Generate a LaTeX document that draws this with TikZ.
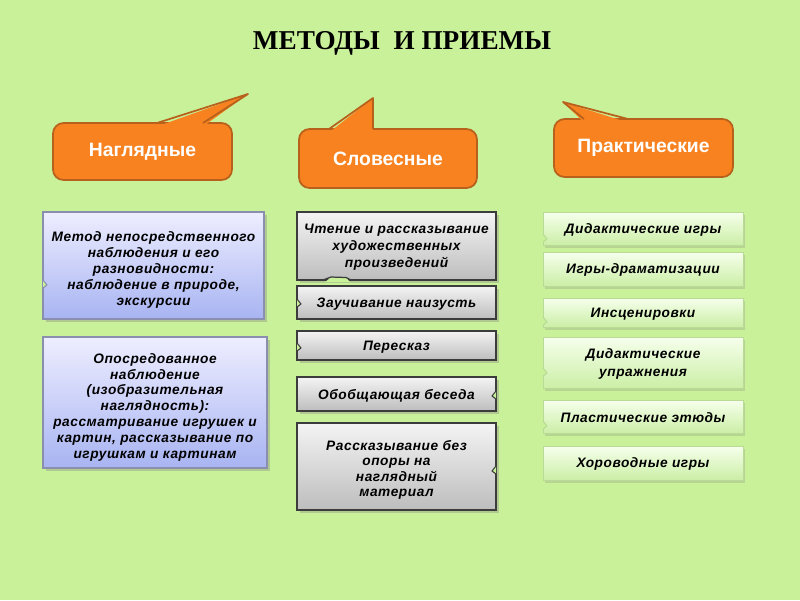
\documentclass[tikz,border=0pt]{standalone}
\usepackage{fontspec}
\setmainfont{Liberation Serif}
\setsansfont{Liberation Sans}
\newfontfamily\boxfont[LetterSpace=4]{Liberation Sans}
\newfontfamily\bubblefont{Liberation Sans}
\usetikzlibrary{shadows,fit}
\definecolor{bg}{HTML}{C9F199}
\definecolor{orangef}{HTML}{F7821F}
\definecolor{oranged}{HTML}{B8611C}
\definecolor{bluetop}{HTML}{EEEEFF}
\definecolor{bluebot}{HTML}{A8B4F2}
\definecolor{blueline}{HTML}{8A8FB0}
\definecolor{greytop}{HTML}{F4F4F4}
\definecolor{greybot}{HTML}{BDBDBD}
\definecolor{greyline}{HTML}{3C3C3C}
\definecolor{greentop}{HTML}{F6FFEC}
\definecolor{greenbot}{HTML}{CBEFA6}
\definecolor{greenline}{HTML}{B9DB95}
\tikzset{
  bubble/.style={fill=orangef, draw=oranged, line width=1pt, rounded corners=6, inner sep=0pt},
  bubbletext/.style={inner sep=0pt, text=white, font=\bubblefont\bfseries\fontsize{11pt}{13pt}\selectfont},
  tailfill/.style={fill=orangef},
  tailline/.style={draw=oranged, line width=1pt, line join=round},
  boxtext/.style={inner sep=0pt, align=center, text=black, yshift=-0.8pt,
    font=\boxfont\bfseries\itshape\fontsize{7.8pt}{9.1pt}\selectfont},
  bluebox/.style={top color=bluetop, bottom color=bluebot, draw=blueline, line width=0.6pt, inner sep=0pt,
    drop shadow={shadow xshift=1.5pt, shadow yshift=-1.5pt, opacity=0.35}},
  greybox/.style={top color=greytop, bottom color=greybot, draw=greyline, line width=0.7pt, inner sep=0pt,
    drop shadow={shadow xshift=1.5pt, shadow yshift=-1.5pt, opacity=0.35}},
  greenbox/.style={top color=greentop, bottom color=greenbot, draw=greenline, line width=0.4pt, inner sep=0pt,
    drop shadow={shadow xshift=1pt, shadow yshift=-1.5pt, opacity=0.25}},
}
% small tear on a vertical edge: #1 x, #2 y, #3 direction (+1 inward to right, -1 inward to left), #4 line colour
\newcommand\edgetear[4]{%
  \fill[bg] (#1,#2-4) -- (#1+#3*4,#2+1) -- (#1,#2+4) -- cycle;
  \draw[#4, line width=0.6pt, line join=round] (#1,#2-4) -- (#1+#3*4,#2+1) -- (#1,#2+4);}
\begin{document}
\begin{tikzpicture}[x=0.02cm,y=-0.02cm]
\path[use as bounding box, fill=bg] (0,0) rectangle (800,600);

% title
\node[font=\bfseries\fontsize{15.5pt}{18pt}\selectfont, inner sep=0pt] (title) at (402,43) {МЕТОДЫ\ \ И ПРИЕМЫ};

% bubbles
\node[bubble, fit={(53,123)(232,180)}] (b1) {};
\node[bubbletext] (t1) at (b1.center) {Наглядные};
\coordinate (b1a) at (157,123); \coordinate (b1p) at (248,94); \coordinate (b1b) at (203,123);
\fill[tailfill] ([yshift=-2]b1a) -- (b1p) -- ([yshift=-2]b1b) -- cycle;
\draw[tailline] (b1a) -- (b1p) -- (b1b);

\node[bubble, fit={(299,129)(477,188)}] (b2) {};
\node[bubbletext] (t2) at (b2.center) {Словесные};
\coordinate (b2a) at (329,129); \coordinate (b2p) at (373,98); \coordinate (b2b) at (373,129);
\fill[tailfill] ([yshift=-2]b2a) -- (b2p) -- ([yshift=-2]b2b) -- cycle;
\draw[tailline] (b2a) -- (b2p) -- (b2b);

\node[bubble, fit={(554,119)(733,177)}] (b3) {};
\node[bubbletext] (t3) at (b3.center) {Практические};
\coordinate (b3a) at (584,119); \coordinate (b3p) at (563,102); \coordinate (b3b) at (628,119);
\fill[tailfill] ([yshift=-2]b3a) -- (b3p) -- ([yshift=-2]b3b) -- cycle;
\draw[tailline] (b3a) -- (b3p) -- (b3b);

% left column
\node[bluebox, fit={(43,212)(264,319)}] (l1) {};
\node[boxtext] (l1t) at ([yshift=-2]l1.center) {Метод непосредственного\\наблюдения и его\\разновидности:\\наблюдение в природе,\\экскурсии};
\edgetear{43}{284}{1}{blueline}
\node[bluebox, fit={(43,337)(267,468)}] (l2) {};
\node[boxtext] (l2t) at ([yshift=-2]l2.center) {Опосредованное\\наблюдение\\(изобразительная\\наглядность):\\рассматривание игрушек и\\картин, рассказывание по\\игрушкам и картинам};

% middle column
\node[greybox, fit={(297,212)(496,280)}] (m1) {};
\node[boxtext, font=\boxfont\bfseries\itshape\fontsize{7.8pt}{9.8pt}\selectfont] (m1t) at (m1.center) {Чтение и рассказывание\\художественных\\произведений};
\fill[bg] (325,282) -- (331,277.5) -- (346,277.5) -- (350,282) -- cycle;
\draw[greyline, line width=0.7pt, line join=round] (323,280) -- (331,277) -- (346,277.5) -- (351,280);
\node[greybox, fit={(297,286)(496,319)}] (m2) {};
\node[boxtext] (m2t) at (m2.center) {Заучивание наизусть};
\edgetear{297}{303}{1}{greyline}
\node[greybox, fit={(297,331)(496,360)}] (m3) {};
\node[boxtext] (m3t) at (m3.center) {Пересказ};
\edgetear{297}{347}{1}{greyline}
\node[greybox, fit={(297,377)(496,411)}] (m4) {};
\node[boxtext] (m4t) at (m4.center) {Обобщающая беседа};
\edgetear{496}{395}{-1}{greyline}
\node[greybox, fit={(297,423)(496,510)}] (m5) {};
\node[boxtext, font=\boxfont\bfseries\itshape\fontsize{7.8pt}{8.8pt}\selectfont] (m5t) at ([yshift=-1]m5.center) {Рассказывание без\\опоры на\\наглядный\\материал};
\edgetear{496}{470}{-1}{greyline}

% right column
\node[greenbox, fit={(543,212)(743,245)}] (r1) {};
\node[boxtext] (r1t) at (r1.center) {Дидактические игры};
\edgetear{543}{238}{1}{greenline}
\node[greenbox, fit={(543,252)(743,286)}] (r2) {};
\node[boxtext] (r2t) at (r2.center) {Игры-драматизации};
\node[greenbox, fit={(543,298)(743,327)}] (r3) {};
\node[boxtext] (r3t) at (r3.center) {Инсценировки};
\edgetear{543}{321}{1}{greenline}
\node[greenbox, fit={(543,337)(743,388)}] (r4) {};
\node[boxtext, font=\boxfont\bfseries\itshape\fontsize{7.8pt}{10pt}\selectfont] (r4t) at (r4.center) {Дидактические\\упражнения};
\edgetear{543}{372}{1}{greenline}
\node[greenbox, fit={(543,400)(743,433)}] (r5) {};
\node[boxtext] (r5t) at (r5.center) {Пластические этюды};
\edgetear{543}{425}{1}{greenline}
\node[greenbox, fit={(543,446)(743,480)}] (r6) {};
\node[boxtext] (r6t) at (r6.center) {Хороводные игры};
\end{tikzpicture}
\end{document}
